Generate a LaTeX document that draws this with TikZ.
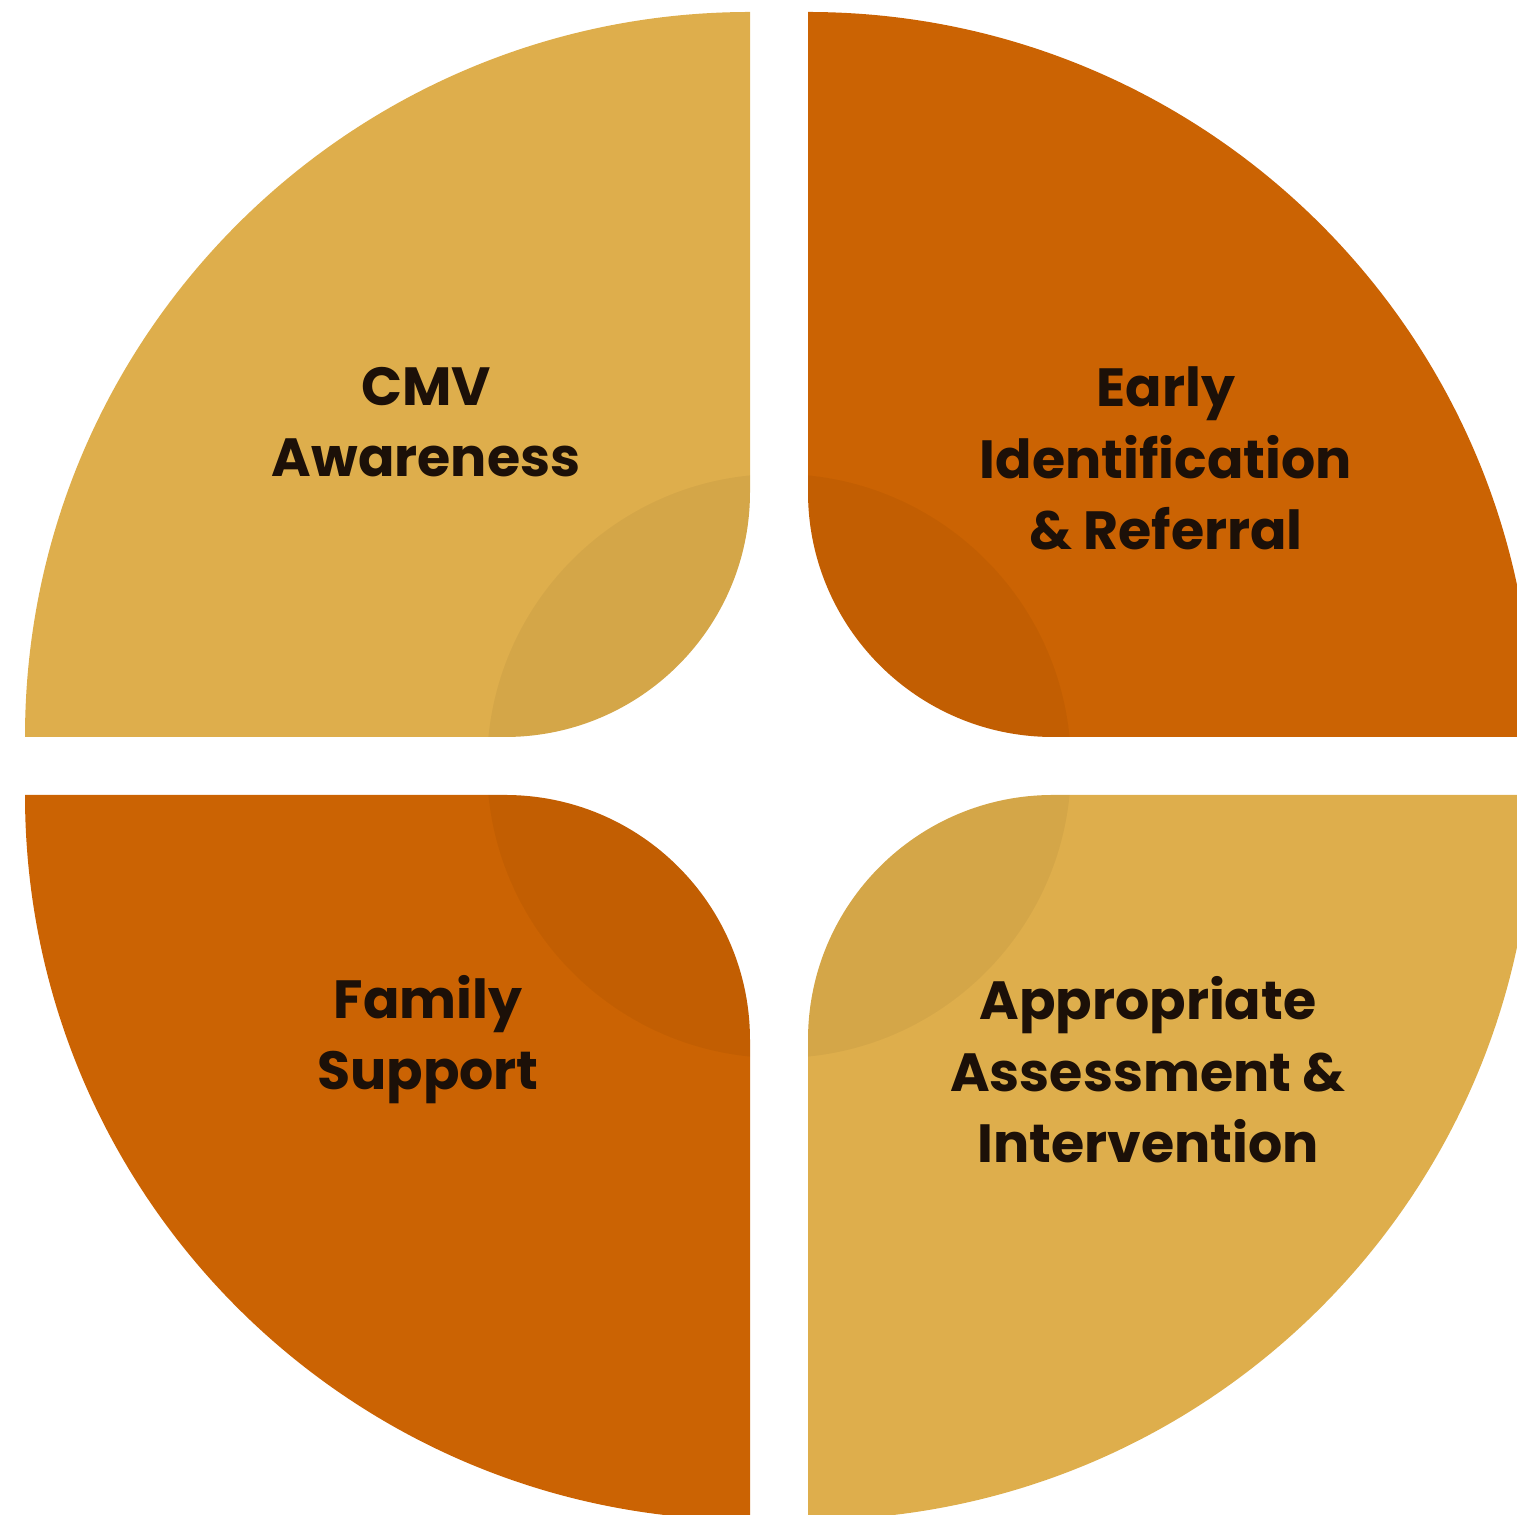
\documentclass[tikz,border=0pt]{standalone}
\usepackage{fontspec}
\setmainfont{Poppins}
\definecolor{cmvgold}{HTML}{DEAE4C}
\definecolor{cmvorange}{HTML}{CB6303}
\definecolor{cmvtext}{HTML}{1C1008}

\begin{document}
\begin{tikzpicture}[x=0.01cm,y=0.01cm,
  quadtext/.style={align=center,anchor=base,text=cmvtext,font=\bfseries\fontsize{15.3pt}{20.4pt}\selectfont},
  lens/.style={path picture={\fill[black,opacity=0.045] (mid) circle[radius=292];}}]
\clip (0,0) rectangle (1517,1515);
\coordinate (mid) at (779,749);
% top left
\fill[cmvgold,lens] (750,1503) arc[start angle=90,end angle=180,radius=725] -- (505,778) arc[start angle=270,end angle=360,radius=245] -- cycle;
% top right
\fill[cmvorange,lens] (808,1503) arc[start angle=90,end angle=0,radius=725] -- (1053,778) arc[start angle=270,end angle=180,radius=245] -- cycle;
% bottom left
\fill[cmvorange,lens] (750,-5) arc[start angle=270,end angle=180,radius=725] -- (505,720) arc[start angle=90,end angle=0,radius=245] -- cycle;
% bottom right
\fill[cmvgold,lens] (808,-5) arc[start angle=270,end angle=360,radius=725] -- (1053,720) arc[start angle=90,end angle=180,radius=245] -- cycle;
\node[quadtext] (cmv) at (426,1038) {CMV\\Awareness};
\node[quadtext] (early) at (1166,965) {Early\\Identification\\\& Referral};
\node[quadtext] (family) at (428,425) {Family\\Support};
\node[quadtext] (assess) at (1148,352) {Appropriate\\Assessment \&\\Intervention};
\end{tikzpicture}
\end{document}
